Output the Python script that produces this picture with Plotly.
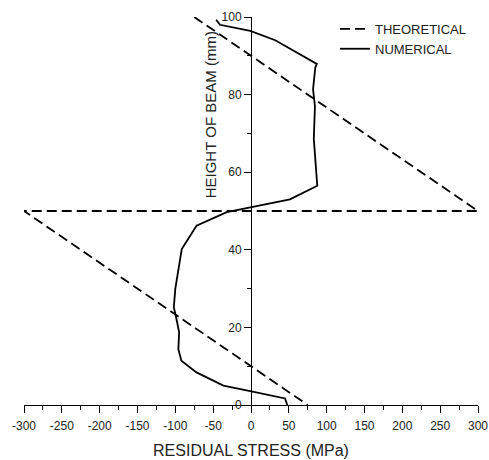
import plotly.graph_objects as go

# Theoretical residual stress (MPa) vs height (mm)
theo_stress = [-75, 300, -300, 75]
theo_height = [100, 50, 50, 0]

# Numerical residual stress (MPa) vs height (mm)
num_stress = [-46, -41, -1, 32, 87, 85, 82, 84.5, 83, 86, 87.6, 51.5, -1, -32, -72,
              -91.5, -100, -102, -98, -95, -96, -92, -72, -36.5, -1, 45, 48]
num_height = [99.3, 98, 96.4, 94, 87.9, 87, 81.4, 77, 68.6, 60, 56.5, 53, 51, 49.7, 46.2,
              40.2, 30, 25.2, 21.7, 18.7, 14.4, 11.4, 8.4, 5, 3.6, 1.7, 0]

x_ticks = [-300, -250, -200, -150, -100, -50, 0, 50, 100, 150, 200, 250, 300]
x_ticklabels = ["-300", "-250", "-200", "-150", "-100", "-50", "0", "50", "100", "150", "200", "250", "300"]
y_ticks = [0, 20, 40, 60, 80, 100]
y_ticklabels = ["0", "20", "40", "60", "80", "100"]

FONT = "Liberation Sans, Arial, sans-serif"
TXT = "#222222"

fig = go.Figure()
fig.add_trace(go.Scatter(x=theo_stress, y=theo_height, mode="lines", name="THEORETICAL",
                         line=dict(color="black", width=1.8, dash="10px,5px")))
fig.add_trace(go.Scatter(x=num_stress, y=num_height, mode="lines", name="NUMERICAL",
                         line=dict(color="black", width=1.8)))

fig.update_layout(
    width=489, height=460,
    margin=dict(l=24, r=11, t=17, b=55),
    paper_bgcolor="white", plot_bgcolor="white",
    font=dict(family=FONT, color=TXT, size=12),
    showlegend=True,
    legend=dict(x=0.685, y=1.008, xanchor="left", yanchor="top", bgcolor="rgba(0,0,0,0)",
                font=dict(size=13, color=TXT), tracegroupgap=0, itemwidth=30),
    xaxis=dict(range=[-300, 300], tickmode="array", tickvals=x_ticks, ticktext=x_ticklabels,
               automargin=False, ticklabelstandoff=3,
               showgrid=False, zeroline=False, showline=True, linecolor="black", linewidth=1,
               ticks="outside", ticklen=7, tickcolor="black", tickwidth=1,
               minor=dict(tickmode="linear", tick0=0, dtick=25, ticks="outside", ticklen=4,
                          tickcolor="black", showgrid=False),
               tickfont=dict(size=12, color=TXT),
               title=dict(text="RESIDUAL STRESS (MPa)", font=dict(size=16, color=TXT), standoff=12)),
    yaxis=dict(range=[0, 100], tickmode="array", tickvals=y_ticks, ticktext=y_ticklabels,
               anchor="free", position=0.5, automargin=False,
               showgrid=False, zeroline=False, showline=True, linecolor="black", linewidth=1,
               ticks="outside", ticklen=7, tickcolor="black", tickwidth=1,
               minor=dict(tickmode="linear", tick0=0, dtick=10, ticks="outside", ticklen=4,
                          tickcolor="black", showgrid=False),
               tickfont=dict(size=12, color=TXT)),
    annotations=[dict(text="HEIGHT OF BEAM (mm)", textangle=-90, showarrow=False,
                      xref="paper", yref="paper", x=0.41, y=0.747,
                      xanchor="center", yanchor="middle",
                      font=dict(size=15, color=TXT, family=FONT))],
)

# remove the browser's default 8px body margin so the figure fills the window exactly
fig.write_html("out.html", config={"displayModeBar": False},
               post_script="document.body.style.margin='0px';")
